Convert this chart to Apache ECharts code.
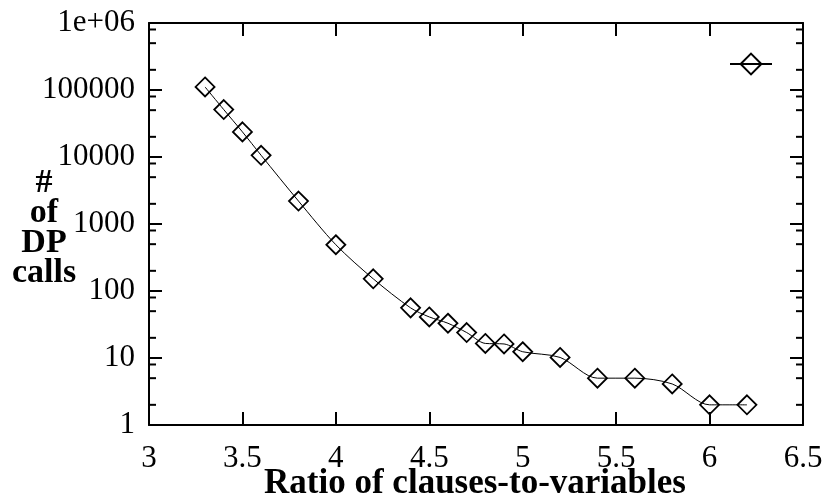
<!DOCTYPE html>
<html><head><meta charset="utf-8">
<script src="https://cdn.jsdelivr.net/npm/echarts@6/dist/echarts.min.js"></script>
<style>html,body{margin:0;padding:0;background:#fff}#c{width:823px;height:500px}</style>
</head><body><div id="c"></div>
<script>
const ratios = [3.3,3.4,3.5,3.6,3.8,4.0,4.2,4.4,4.5,4.6,4.7,4.8,4.9,5.0,5.2,5.4,5.6,5.8,6.0,6.2];
const dpCalls = [111000,51000,23700,10600,2200,490,152,56,41,33,24,16.5,16.2,12.4,10.2,5.0,5.0,4.1,2.0,2.0];
const xMin = 3, xMax = 6.5, xStep = 0.5;
const yTickValues = [1,10,100,1000,10000,100000,1000000];
const yTickLabels = ['1','10','100','1000','10000','100000','1e+06'];
const yMinorTicks = [2,5,8,20,50,80,200,500,800,2000,5000,8000,20000,50000,80000,200000,500000,800000];
const xTitle = 'Ratio of clauses-to-variables';
const yTitle = ['#','of','DP','calls'];

const serif = '"Liberation Serif", "Times New Roman", serif';
const chart = echarts.init(document.getElementById('c'), null, {renderer:'canvas'});
const axisLine = {show:true, onZero:false, lineStyle:{color:'#000', width:2}};
function yAx(pos, labels){
  return {
    type:'log', logBase:10, min:1, max:1000000, splitNumber:6, position:pos,
    axisLine: axisLine,
    splitLine:{show:false},
    axisTick:{show:true, inside:true, length:13, lineStyle:{color:'#000', width:2}},
    axisLabel: labels ? {show:true, margin:14, color:'#000', fontFamily:serif, fontSize:31,
      formatter: v => { const i = yTickValues.indexOf(v); return i >= 0 ? yTickLabels[i] : String(v); }} : {show:false}
  };
}
function minorTickSeries(xv, off){
  return {
    name: 'minor' + xv,
    type:'scatter', xAxisIndex:0, yAxisIndex:0, silent:true, clip:false, z:10,
    data: yMinorTicks.map(v => [xv, v]),
    symbol:'rect', symbolSize:[7,2], symbolOffset:[off,0],
    itemStyle:{color:'#000', opacity:1}
  };
}
const option = {
  animation:false,
  backgroundColor:'#fff',
  grid:{left:149, right:20, top:23, bottom:75, containLabel:false, outerBoundsMode:'none'},
  xAxis:[{
    type:'value', min:xMin, max:xMax, interval:xStep, position:'bottom',
    axisLine: axisLine, splitLine:{show:false},
    axisTick:{show:true, inside:true, length:13, lineStyle:{color:'#000', width:2}},
    axisLabel:{show:true, margin:18, color:'#000', fontFamily:serif, fontSize:31}
  },{
    type:'value', min:xMin, max:xMax, interval:xStep, position:'top',
    axisLine: axisLine, splitLine:{show:false},
    axisTick:{show:true, inside:true, length:13, lineStyle:{color:'#000', width:2}},
    axisLabel:{show:false}
  }],
  yAxis:[yAx('left', true), yAx('right', false)],
  legend:{
    left:724, top:46, itemWidth:42, itemHeight:26, padding:5,
    formatter: () => '', selectedMode:false,
    data:[{name:'DP calls'}]
  },
  graphic:[{
    type:'text', x:44, y:228,
    style:{text: yTitle.join('\n'), fill:'#000', font:'bold 34px ' + serif, lineHeight:30, align:'center', verticalAlign:'middle'}
  },{
    type:'text', x:475, y:484,
    style:{text: xTitle, fill:'#000', font:'bold 35px ' + serif, align:'center', verticalAlign:'middle'}
  }],
  series:[{
    name:'DP calls', type:'line', xAxisIndex:0, yAxisIndex:0,
    data: ratios.map((x,i)=>[x, dpCalls[i]]),
    smooth:0.3,
    symbol:'diamond', symbolSize:19,
    lineStyle:{color:'#000', width:1},
    itemStyle:{color:'rgba(0,0,0,0)', borderColor:'#000', borderWidth:1.8},
    emphasis:{disabled:true}, z:3
  }, minorTickSeries(xMin, 3.5), minorTickSeries(xMax, -3.5)]
};
chart.setOption(option);
</script></body></html>
